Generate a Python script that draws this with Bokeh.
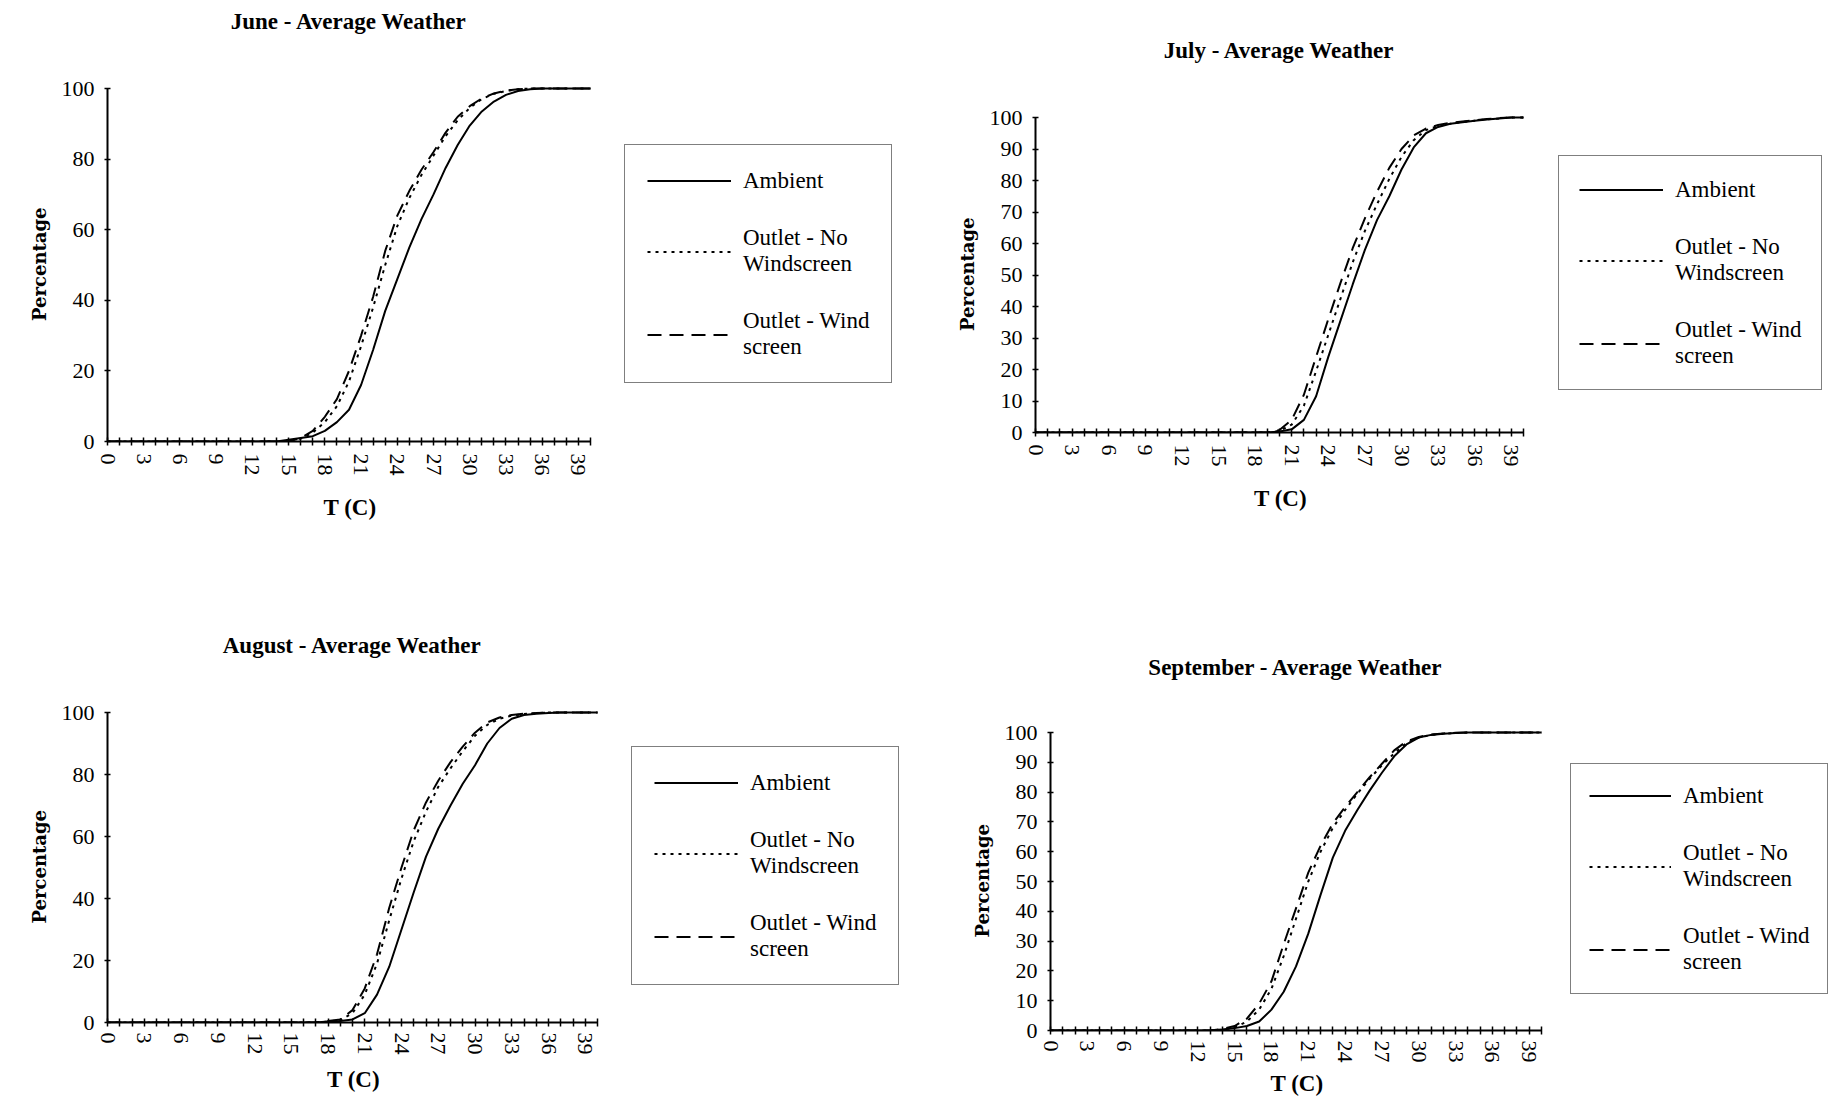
from bokeh.plotting import figure
from bokeh.models import Range1d, FixedTicker, Legend, LegendItem, Label, Title
from bokeh.layouts import row, column
from bokeh.embed import file_html
from bokeh.resources import INLINE

# ---- data -------------------------------------------------------------
T = list(range(41))                      # temperature categories 0..40 C
X_TICK_LABELS = ["0", "3", "6", "9", "12", "15", "18", "21", "24", "27", "30", "33", "36", "39"]
Y_TICKS_20 = [0, 20, 40, 60, 80, 100]
Y_TICKS_10 = [0, 10, 20, 30, 40, 50, 60, 70, 80, 90, 100]
SERIES_NAMES = ["Ambient", "Outlet - No\nWindscreen", "Outlet - Wind\nscreen"]
TITLES = ["June - Average Weather", "July - Average Weather",
          "August - Average Weather", "September - Average Weather"]
X_TITLE = "T (C)"
Y_TITLE = "Percentage"

june_ambient = [0] * 15 + [0.5, 1, 1.5, 3, 5.5, 9, 16, 26, 37, 46, 55, 63, 70, 77.5, 84, 89.5,
                           93.5, 96.3, 98.2, 99.3, 99.8, 100, 100, 100, 100, 100]
june_no_ws = [0] * 16 + [0.8, 2.5, 5.5, 10, 17, 27, 38, 50, 61, 69, 75.5, 81, 86.5, 91, 94.5,
                         97, 98.5, 99.3, 99.8, 100, 100, 100, 100, 100, 100]
june_ws = [0] * 16 + [1, 3, 7, 12, 20, 30, 41, 54, 64, 71, 77, 82, 87.5, 92, 95,
                      97.2, 98.6, 99.4, 99.8, 100, 100, 100, 100, 100, 100]

july_ambient = [0] * 20 + [0.3, 1, 4, 11.5, 24, 35.5, 47, 58, 67.5, 75, 83.5, 90.5, 95, 97,
                           98, 98.5, 99, 99.4, 99.7, 100, 100]
july_no_ws = [0] * 20 + [0.5, 2.5, 8.5, 19.5, 31, 42.5, 54, 64, 72.5, 80.5, 87.5, 92.8, 96,
                         97.3, 98, 98.6, 99, 99.4, 99.7, 100, 100]
july_ws = [0] * 20 + [0.8, 4, 12, 24, 36, 47.5, 58.5, 68, 76.5, 84, 90, 94.3, 96.5, 97.6,
                      98.3, 98.7, 99.1, 99.5, 99.8, 100, 100]

aug_ambient = [0] * 18 + [0.3, 0.5, 1, 3, 9, 18, 30, 42, 53.5, 62.5, 70, 77, 83, 90, 95, 98,
                          99.2, 99.6, 99.8, 100, 100, 100, 100]
aug_no_ws = [0] * 18 + [0.3, 0.8, 3, 9, 19, 33, 46.5, 58.5, 68, 76, 82, 87.5, 92.5, 96, 98,
                        99, 99.5, 99.8, 100, 100, 100, 100, 100]
aug_ws = [0] * 18 + [0.5, 1, 4, 11, 22, 37, 50, 62, 71, 78, 84, 89, 93.5, 96.8, 98.4, 99.2,
                     99.6, 99.8, 100, 100, 100, 100, 100]

sep_ambient = [0] * 14 + [0.3, 0.8, 1.5, 3, 7, 13, 21.5, 32.5, 45.5, 58, 67, 74, 80.5, 86.5,
                          92, 96, 98.3, 99.2, 99.6, 99.8, 100, 100, 100, 100, 100, 100, 100]
sep_no_ws = [0] * 14 + [0.3, 1, 3, 7, 14, 25, 37.5, 50, 60, 68, 74, 79.5, 84.5, 89, 93, 96.5,
                        98.3, 99.2, 99.6, 99.8, 100, 100, 100, 100, 100, 100, 100]
sep_ws = [0] * 14 + [0.5, 1.5, 4, 9, 16.5, 29, 41, 53, 62, 69.5, 75, 80, 85, 89.5, 94, 97,
                     98.5, 99.3, 99.7, 99.9, 100, 100, 100, 100, 100, 100, 100]

SERIF = "Liberation Serif"
X_MAX = 40
Y_MAX = 100
X_TITLE_W = 51      # approx. rendered width of "T (C)" (px)
Y_TITLE_W = 112     # approx. rendered length of "Percentage" (px)


def make_chart(title, series, yticks, w, h, bl, bb, chart_w, chart_h, title_dy,
               loc, pad, glyph_w, xt_standoff, lab_standoff=8):
    frame_w = w - bl
    frame_h = h - bb
    # frame spans the whole figure; axes are bounded to the chart area
    x_end = X_MAX * frame_w / chart_w
    y_end = Y_MAX * frame_h / chart_h
    p = figure(width=w, height=h, output_backend="svg", toolbar_location=None,
               x_range=Range1d(0, x_end), y_range=Range1d(0, y_end),
               min_border_left=bl, min_border_right=0, min_border_top=0, min_border_bottom=bb,
               frame_align=False)
    p.outline_line_color = None
    p.xgrid.visible = False
    p.ygrid.visible = False

    # chart title, centred over the chart area
    p.add_layout(Label(x=X_MAX / 2, y=chart_h + title_dy, x_units="data", y_units="screen",
                       text=title, text_align="center", text_baseline="middle",
                       text_font=SERIF, text_font_size="23px", text_font_style="bold",
                       text_color="black"))

    xa = p.xaxis[0]
    xa.bounds = (0, X_MAX)
    xa.ticker = FixedTicker(ticks=T)
    overrides = {t: "" for t in T}
    for lab in X_TICK_LABELS:
        overrides[int(lab)] = lab
    xa.major_label_overrides = overrides
    xa.major_label_orientation = "vertical"
    xa.major_tick_in = 4
    xa.major_tick_out = 4
    xa.major_label_standoff = lab_standoff

    ya = p.yaxis[0]
    ya.bounds = (0, Y_MAX)
    ya.ticker = FixedTicker(ticks=yticks)
    ya.major_tick_in = 3
    ya.major_tick_out = 3
    ya.major_label_standoff = 10

    for ax in (xa, ya):
        ax.axis_line_width = 2
        ax.axis_line_color = "black"
        ax.major_tick_line_color = "black"
        ax.major_tick_line_width = 1.5
        ax.minor_tick_line_color = None
        ax.major_label_text_font = SERIF
        ax.major_label_text_font_size = "22px"
        ax.major_label_text_color = "black"

    # axis titles, centred on the bounded chart area (not on the whole frame)
    p.add_layout(Title(text=X_TITLE, align="left", offset=chart_w / 2 - X_TITLE_W / 2,
                       vertical_align="top", standoff=xt_standoff,
                       text_font=SERIF, text_font_size="23px", text_font_style="bold",
                       text_color="black"), "below")
    p.add_layout(Title(text=Y_TITLE, align="left", offset=chart_h / 2 - Y_TITLE_W / 2,
                       vertical_align="bottom", standoff=18,
                       text_font="DejaVu Serif", text_font_size="18px", text_font_style="bold",
                       text_color="black"), "left")

    amb, nows, ws = series
    r1 = p.line(T, amb, line_color="black", line_width=2)
    r2 = p.line(T, nows, line_color="black", line_width=2, line_dash="3 5")
    r3 = p.line(T, ws, line_color="black", line_width=2, line_dash="14 8")

    legend = Legend(items=[LegendItem(label=SERIES_NAMES[0], renderers=[r1]),
                           LegendItem(label=SERIES_NAMES[1], renderers=[r2]),
                           LegendItem(label=SERIES_NAMES[2], renderers=[r3])],
                    location=loc, margin=0, padding=pad, spacing=31,
                    glyph_width=glyph_w, glyph_height=27, label_standoff=12,
                    label_text_font=SERIF, label_text_font_size="23px",
                    label_text_line_height=1.4, label_text_color="black",
                    border_line_color="black", border_line_width=1.5,
                    background_fill_color="white", background_fill_alpha=1.0)
    p.add_layout(legend)
    return p


p_jun = make_chart(TITLES[0], (june_ambient, june_no_ws, june_ws), Y_TICKS_20,
                   930, 588, 107, 147, 483, 353, 67, (517, 58), 22, 84, 32)
p_jul = make_chart(TITLES[1], (july_ambient, july_no_ws, july_ws), Y_TICKS_10,
                   899, 588, 105, 156, 488, 315, 67, (523, 42), 20, 84, 32)
p_aug = make_chart(TITLES[2], (aug_ambient, aug_no_ws, aug_ws), Y_TICKS_20,
                   930, 518, 107, 84, 490, 310, 67, (524, 37), 22, 84, 18, 6)
p_sep = make_chart(TITLES[3], (sep_ambient, sep_no_ws, sep_ws), Y_TICKS_10,
                   899, 518, 120, 76, 491, 298, 65, (520, 36), 18, 82, 10, 6)

layout = column(row(p_jun, p_jul), row(p_aug, p_sep))
open("out.html", "w").write(file_html(layout, INLINE))
